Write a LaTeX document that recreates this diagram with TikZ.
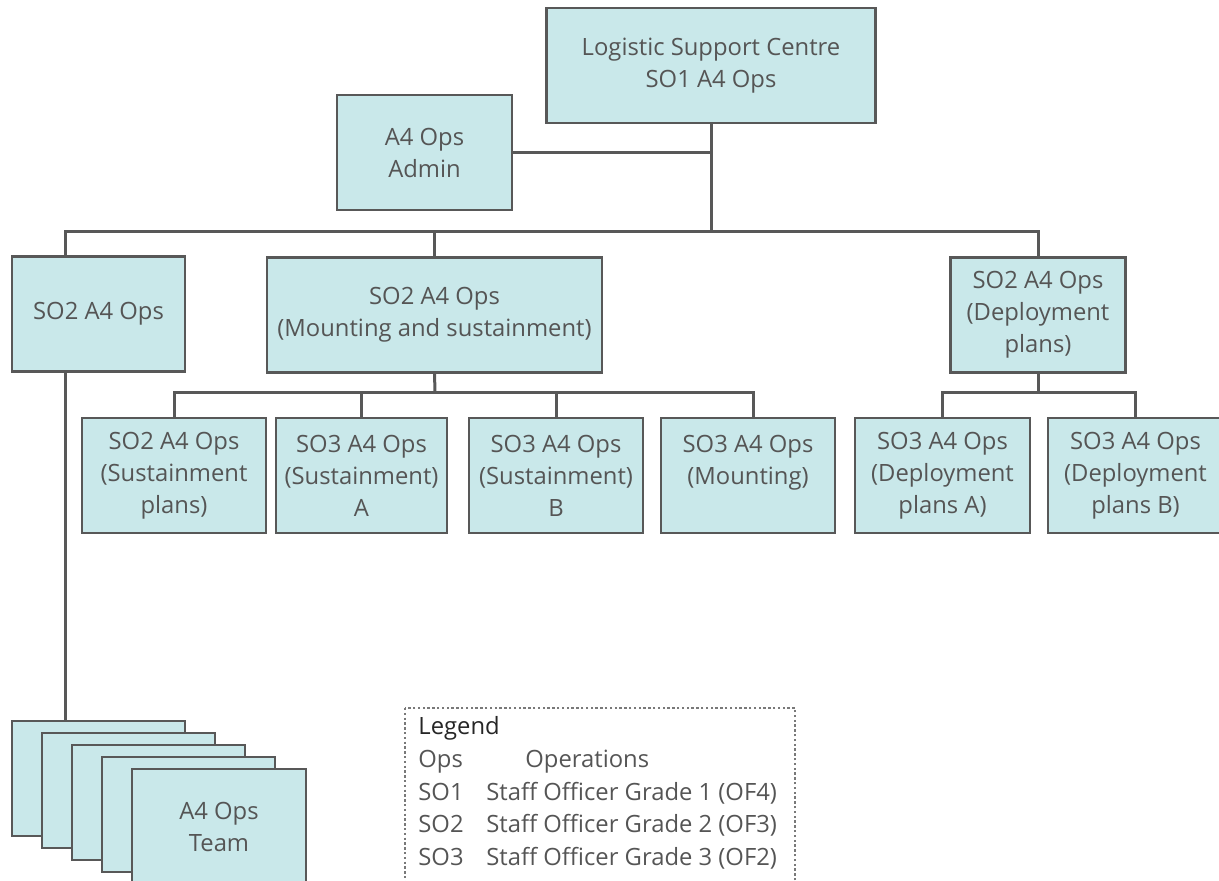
\documentclass[tikz,border=0pt]{standalone}
\usepackage{fontspec}
\setmainfont{Open Sans}
\usetikzlibrary{calc}
\definecolor{unitfill}{HTML}{C9E8EA}
\definecolor{linegray}{HTML}{585858}
\definecolor{textgray}{HTML}{555555}
\newcommand*\unitwd{87.5pt}
\newcommand*\unitht{57.5pt}
\tikzset{
    unit/.style      = {draw=linegray, fill=unitfill, line width=1.4pt,
                        minimum width=\unitwd, minimum height=\unitht,
                        inner sep=2pt, outer sep=0pt, align=center, text=textgray,
                        font=\fontsize{11.9}{16}\selectfont},
    wideunit/.style  = {unit, minimum width=166pt},
    teamcard/.style  = {unit, anchor=north west},
    link/.style      = {draw=linegray, line width=1.5pt},
    legendframe/.style = {draw=linegray!80, line width=0.6pt,
                        dash pattern=on 1.2pt off 1.2pt},
    legendtext/.style  = {inner sep=0pt, anchor=north west, align=left,
                        text=textgray, font=\fontsize{11.9}{16.4}\selectfont},
  }
\begin{document}
\begin{tikzpicture}[x=0.5pt,y=-0.5pt]
      \useasboundingbox (0,0) rectangle (1219,881);

      % head of the centre and its admin cell
      \node[wideunit, minimum width=164.5pt] (lsc)   at (711,65.5) {Logistic Support Centre\\SO1 A4 Ops};
      \node[unit]                            (admin) at (424.5,152.5) {A4 Ops\\Admin};

      % second level
      \node[unit, minimum width=86.5pt] (so2a) at (98.5,314) {SO2 A4 Ops};
      \node[wideunit, minimum width=167.5pt] (so2b) at (434.5,315) {SO2 A4 Ops\\(Mounting and sustainment)};
      \node[unit] (so2c) at (1038,315) {SO2 A4 Ops\\(Deployment\\plans)};

      % third level
      \node[unit, minimum width=92pt]   (sustplans) at (174,475.5)   {SO2 A4 Ops\\(Sustainment\\plans)};
      \node[unit, minimum width=85.5pt] (sustA)     at (361.5,475.5) {SO3 A4 Ops\\(Sustainment)\\A};
      \node[unit, minimum width=87pt]   (sustB)     at (556,475.5)   {SO3 A4 Ops\\(Sustainment)\\B};
      \node[unit, minimum width=87pt]   (mounting)  at (748,475.5)   {SO3 A4 Ops\\(Mounting)\\\mbox{}};
      \node[unit]                       (deplA)     at (942.5,475.5) {SO3 A4 Ops\\(Deployment\\plans A)};
      \node[unit]                       (deplB)     at (1135.5,475.5){SO3 A4 Ops\\(Deployment\\plans B)};

      % stack of team cards
      \foreach \k in {0,...,3} {
        \node[teamcard, minimum width=86.5pt] (team\k) at (12+30*\k,721+12*\k) {};
      }
      \node[teamcard, minimum width=87pt] (team4) at (132,769) {A4 Ops\\Team};

      % bus lines
      \coordinate (busA) at (65,232);
      \coordinate (busB) at (435,393);

      \draw[link] (lsc.south) -- (lsc.south |- busA);
      \draw[link] (admin.east) -- (admin.east -| lsc.south);
      \draw[link] (so2a.north -| busA) -- (busA) -- (so2c.north |- busA) -- (so2c.north);
      \draw[link] (so2b.north) -- (so2b.north |- busA);

      \draw[link] (so2b.south) -- (busB);
      \draw[link] (sustplans.north) |- ($(mounting.north |- busB)+(5,0)$) -- ($(mounting.north)+(5,0)$);
      \draw[link] (sustA.north) -- (sustA.north |- busB);
      \draw[link] (sustB.north) -- (sustB.north |- busB);

      \draw[link] (so2c.south) -- (so2c.south |- busB);
      \draw[link] (deplA.north) |- (deplB.north |- busB) -- (deplB.north);

      \draw[link] (so2a.south -| busA) -- (team0.north -| busA);

      % legend
      \node[legendtext] (legend) at (418,716) {%
        {\color{black!85}Legend}\\
        \makebox[53.5pt][l]{Ops}Operations\\
        \makebox[34pt][l]{SO1}Staff Officer Grade 1 (OF4)\\
        \makebox[34pt][l]{SO2}Staff Officer Grade 2 (OF3)\\
        \makebox[34pt][l]{SO3}Staff Officer Grade 3 (OF2)};
      \draw[legendframe] ($(legend.north west)+(-13,-8)$) rectangle ($(legend.north west)+(377,200)$);
    \end{tikzpicture}
\end{document}
